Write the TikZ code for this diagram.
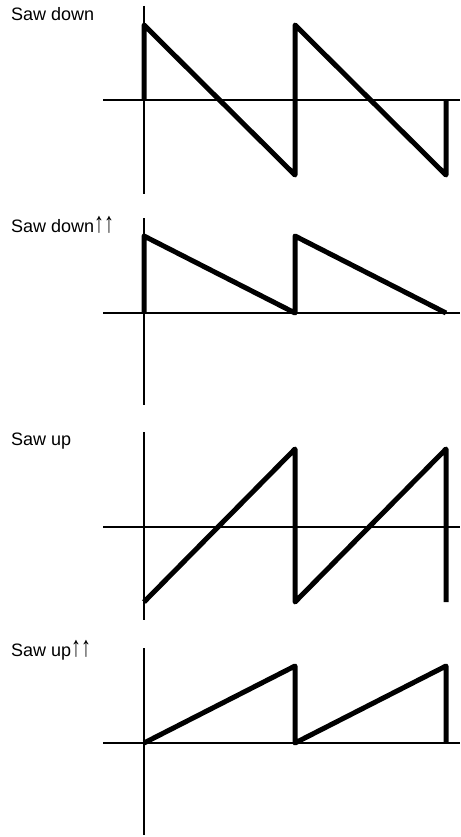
\documentclass[tikz,border=0pt]{standalone}
\usepackage{fontspec}
\usepackage{graphicx}
\setmainfont{Liberation Sans}
\newcommand{\upup}{\scalebox{1.1}[1.6]{↑↑}}
\begin{document}
\begin{tikzpicture}[x=1pt,y=-1pt,
  axis/.style={line width=2pt},
  wave/.style={line width=5pt,line join=round},
  lbl/.style={anchor=base west,inner sep=0pt,font=\fontsize{18}{20}\selectfont}]
\useasboundingbox (0,0) rectangle (460,837);
% Panel 1: Saw down
\node[lbl] (l1) at (11,21) {Saw down};
\draw[axis] (144,6) -- (144,194);
\draw[axis] (103,100) -- (460,100);
\draw[wave] (144,100) -- (144,25) -- (295,175) -- (295,25) -- (446,175) -- (446,100);
% Panel 2: Saw down up-up
\node[lbl] (l2) at (11,232) {Saw down\upup};
\draw[axis] (144,218) -- (144,405);
\draw[axis] (103,313) -- (460,313);
\draw[wave] (144,313) -- (144,236) -- (295,313) -- (295,236) -- (446,313);
% Panel 3: Saw up
\node[lbl] (l3) at (11,445) {Saw up};
\draw[axis] (144,432) -- (144,620);
\draw[axis] (103,527) -- (460,527);
\draw[wave] (144,602) -- (295,449) -- (295,602) -- (446,449) -- (446,602);
% Panel 4: Saw up up-up
\node[lbl] (l4) at (11,656) {Saw up\upup};
\draw[axis] (144,648) -- (144,835);
\draw[axis] (103,743) -- (460,743);
\draw[wave] (144,743) -- (295,666) -- (295,743) -- (446,666) -- (446,743);
\end{tikzpicture}
\end{document}
